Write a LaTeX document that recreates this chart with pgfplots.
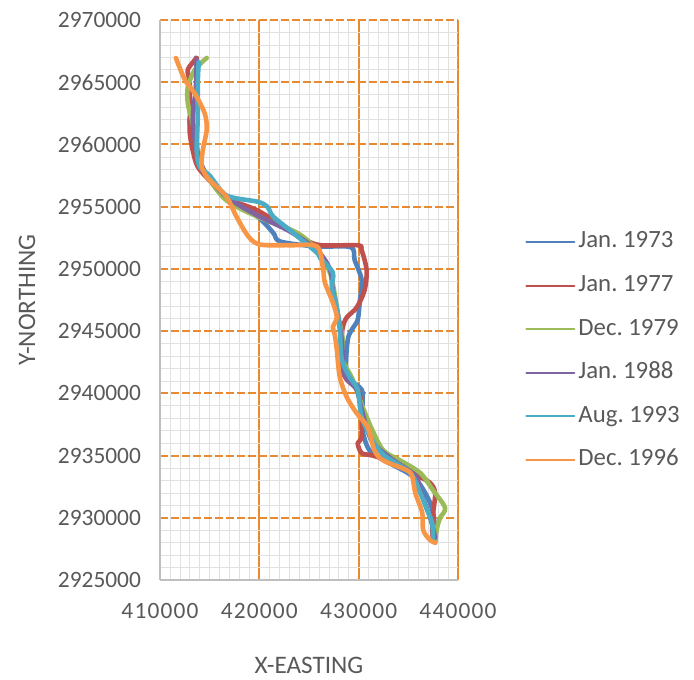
\documentclass[border=0pt]{standalone}
\usepackage{fontspec}
\setmainfont{Carlito}
\usepackage{pgfplots}
\pgfplotsset{compat=1.18}
\definecolor{sblue}{HTML}{4F81BD}
\definecolor{sred}{HTML}{C0504D}
\definecolor{sgreen}{HTML}{9BBB59}
\definecolor{spurple}{HTML}{8064A2}
\definecolor{scyan}{HTML}{4BACC6}
\definecolor{sorange}{HTML}{F79646}
\definecolor{gridor}{RGB}{232,138,50}
\definecolor{txt}{HTML}{595959}
\begin{document}
\begin{tikzpicture}
\useasboundingbox (0,0) rectangle (347pt,339.5pt);
\begin{axis}[
    at={(80pt,49.5pt)}, anchor=south west,
    scale only axis, width=149pt, height=280pt,
    xmin=410000, xmax=440000, ymin=2925000, ymax=2970000,
    axis lines*=left,
    xtick={410000,420000,430000,440000},
    ytick={2925000,2930000,2935000,2940000,2945000,2950000,2955000,2960000,2965000,2970000},
    minor x tick num=9, minor y tick num=4,
    grid=both,
    major x grid style={draw=gridor, solid, line width=1pt},
    major y grid style={draw=gridor, line width=1pt, dash pattern=on 4pt off 1.5pt},
    minor grid style={draw=black!12, line width=0.35pt},
    axis line style={draw=black!25, line width=0.6pt, -},
    major tick length=0pt, minor tick length=0pt,
    scaled ticks=false,
    /pgf/number format/fixed, /pgf/number format/1000 sep={},
    /pgf/number format/assume math mode=true,
    yticklabel style={font=\fontsize{11.7}{13}\selectfont, color=txt, xshift=-6pt},
    xticklabel style={font=\fontsize{11.7}{13}\selectfont\addfontfeature{LetterSpace=5}, color=txt, yshift=-8pt},
    xlabel={X-EASTING}, ylabel={Y-NORTHING},
    every axis x label/.style={at={(axis description cs:0.5,-0.152)}, anchor=center,
        font=\fontsize{12.6}{14}\selectfont, text=txt},
    every axis y label/.style={at={(axis description cs:-0.446,0.5)}, rotate=90, anchor=center,
        font=\fontsize{12.6}{14}\selectfont, text=txt},
    legend style={at={(axis description cs:1.225,0.409)}, anchor=west, draw=none, fill=none,
        font=\fontsize{12.4}{14}\selectfont, text=txt, row sep=11.8pt, inner sep=0pt,
        nodes={inner xsep=1.5pt, inner ysep=0pt, text height=8pt, text depth=2pt}},
    legend cell align=left,
    legend image code/.code={\draw[#1, line width=1pt] (0pt,0pt) -- (24pt,0pt);},
    every axis plot/.append style={line width=2.3pt, smooth, tension=0.5, line join=round, line cap=round},
]
% Jan. 1973
\addplot[sblue] coordinates {
(413600,2966950) (413700,2965400) (413500,2963600) (413000,2962000) (413200,2960600)
(413800,2959000) (414800,2957400) (416700,2955700) (419800,2954200) (421400,2952900)
(422100,2952200) (425800,2951800) (429200,2951750) (429600,2950700) (430300,2949100)
(430100,2947300) (429900,2945900) (429300,2945100) (428900,2944300) (428700,2941900)
(429100,2941100) (430300,2940300) (430400,2939200) (430400,2937000) (431100,2935400)
(432600,2934600) (435500,2933300) (436900,2931700) (437500,2930400) (437700,2928800)
(437700,2928000)
};
% Jan. 1977
\addplot[sred] coordinates {
(413700,2966950) (412800,2966000) (413000,2964900) (413000,2962200) (413000,2960900)
(413300,2959500) (413800,2958200) (415000,2957100) (416700,2955700) (419800,2954700)
(423100,2953100) (425800,2951950) (429900,2951900) (430300,2951500) (430800,2949900)
(430600,2948300) (429800,2946900) (428800,2946100) (428400,2945300) (428300,2944300)
(428400,2941900) (428800,2941100) (429800,2940400) (430100,2939900) (430300,2938900)
(430300,2936500) (429900,2936000) (430300,2935200) (431400,2935000) (433900,2934400)
(435900,2933400) (437200,2932800) (437700,2932000) (437500,2930400) (437400,2929000)
(437500,2928200)
};
% Dec. 1979
\addplot[sgreen] coordinates {
(414700,2966950) (413500,2966000) (412800,2964600) (412800,2963300) (413200,2962000)
(413600,2960400) (414000,2958800) (414800,2957400) (416700,2955500) (419800,2954200)
(423800,2952900) (425800,2951500) (427100,2949700) (427600,2947900) (427900,2946400)
(428400,2944300) (428400,2942700) (429400,2941100) (430400,2938900) (431400,2937000)
(432500,2935400) (434200,2934600) (436200,2933600) (437500,2932200) (438700,2930800)
(438200,2930000) (437900,2929200) (437700,2928200)
};
% Jan. 1988
\addplot[spurple] coordinates {
(413700,2966800) (413600,2964400) (413300,2962000) (413600,2960000) (414500,2957800)
(416700,2955800) (419800,2954300) (423100,2953000) (425800,2951500) (427100,2950000)
(427400,2948300) (427900,2946300) (428300,2944300) (428600,2941500) (429800,2940300)
(430300,2938700) (431300,2936200) (433200,2934800) (435700,2933400) (436200,2932200)
(437200,2930000) (437700,2928400)
};
% Aug. 1993
\addplot[scyan] coordinates {
(413900,2966600) (413800,2964900) (413800,2962200) (413700,2959500) (414000,2958200)
(415000,2957500) (416700,2955900) (419800,2955400) (420800,2955000) (421400,2954200)
(423100,2953100) (425800,2951300) (426100,2950900) (427400,2949700) (427300,2948500)
(427800,2946900) (428100,2945100) (428300,2942700) (429100,2941300) (429900,2940300)
(430300,2938100) (431400,2936200) (432600,2935000) (435200,2933600) (436200,2932000)
(436900,2930600) (437400,2929600) (437500,2928200)
};
% Dec. 1996
\addplot[sorange] coordinates {
(411600,2966950) (412500,2965200) (413500,2964100) (414500,2962500) (414700,2961200)
(414300,2959500) (414200,2958200) (414800,2957300) (415300,2956900) (416700,2955800)
(417700,2954200) (418900,2952600) (420100,2951950) (423100,2951900) (425800,2951800)
(426400,2950100) (426600,2948900) (427400,2947300) (427800,2946100) (427400,2945300)
(427600,2944700) (427800,2943500) (428100,2941300) (428800,2939700) (429800,2938400)
(430900,2937300) (431600,2935400) (432500,2934600) (434900,2933800) (435400,2933300)
(435700,2932000) (436400,2930400) (436500,2929000) (437200,2928200) (437700,2928000)
};
\legend{Jan.\ 1973,Jan.\ 1977,Dec.\ 1979,Jan.\ 1988,Aug.\ 1993,Dec.\ 1996}
\end{axis}
\end{tikzpicture}
\end{document}
